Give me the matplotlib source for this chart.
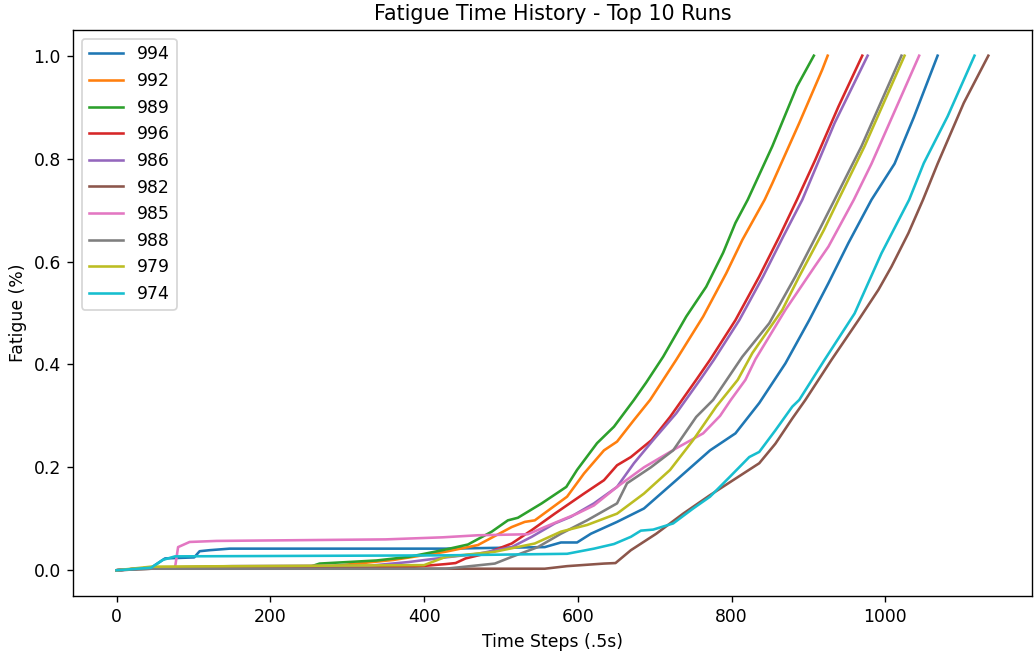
import matplotlib
matplotlib.use('agg')
import matplotlib.pyplot as plt

# 运行编号（图例顺序）
runs = ['994', '992', '989', '996', '986', '982', '985', '988', '979', '974']

# 各次运行的疲劳曲线关键点
x_994 = [0, 45, 63, 101, 108, 121, 147, 428, 557, 578, 599, 617, 651, 686, 728, 772, 805, 836, 870, 901, 926, 952, 982, 1012, 1037, 1068]
y_994 = [0, 0.005, 0.023, 0.025, 0.037, 0.039, 0.042, 0.042, 0.045, 0.054, 0.054, 0.071, 0.094, 0.12, 0.175, 0.233, 0.266, 0.325, 0.402, 0.486, 0.558, 0.636, 0.72, 0.79, 0.88, 1.0]

x_992 = [0, 45, 280, 360, 428, 470, 514, 531, 544, 586, 608, 634, 651, 673, 694, 728, 763, 793, 814, 843, 853, 888, 918, 925]
y_992 = [0, 0.005, 0.008, 0.02, 0.036, 0.049, 0.084, 0.094, 0.097, 0.143, 0.188, 0.233, 0.25, 0.292, 0.331, 0.409, 0.493, 0.577, 0.642, 0.72, 0.752, 0.869, 0.973, 1.0]

x_989 = [0, 45, 250, 264, 338, 380, 424, 457, 488, 509, 522, 553, 585, 599, 625, 647, 673, 689, 711, 741, 767, 789, 805, 821, 853, 885, 907]
y_989 = [0, 0.005, 0.006, 0.013, 0.019, 0.026, 0.039, 0.05, 0.075, 0.097, 0.102, 0.13, 0.162, 0.195, 0.247, 0.279, 0.331, 0.365, 0.415, 0.493, 0.551, 0.617, 0.675, 0.72, 0.824, 0.94, 1.0]

x_996 = [0, 45, 380, 428, 441, 454, 479, 514, 540, 570, 608, 634, 651, 669, 696, 720, 754, 772, 805, 836, 862, 885, 909, 939, 970]
y_996 = [0, 0.005, 0.006, 0.012, 0.014, 0.023, 0.032, 0.052, 0.078, 0.11, 0.149, 0.175, 0.204, 0.22, 0.253, 0.298, 0.37, 0.409, 0.486, 0.571, 0.648, 0.72, 0.798, 0.901, 1.0]

x_986 = [0, 45, 150, 330, 380, 428, 470, 514, 540, 570, 591, 621, 651, 673, 698, 728, 759, 777, 810, 841, 867, 892, 934, 977]
y_986 = [0, 0.005, 0.008, 0.009, 0.016, 0.025, 0.032, 0.045, 0.065, 0.091, 0.104, 0.13, 0.162, 0.208, 0.253, 0.305, 0.37, 0.409, 0.486, 0.571, 0.648, 0.72, 0.869, 1.0]

x_982 = [0, 45, 428, 557, 586, 634, 649, 669, 702, 737, 772, 805, 836, 857, 879, 896, 930, 965, 991, 1008, 1030, 1049, 1068, 1102, 1134]
y_982 = [0, 0.003, 0.003, 0.003, 0.008, 0.013, 0.014, 0.039, 0.071, 0.11, 0.146, 0.178, 0.208, 0.246, 0.295, 0.331, 0.409, 0.486, 0.545, 0.59, 0.655, 0.72, 0.79, 0.908, 1.0]

x_985 = [0, 45, 76, 80, 95, 130, 350, 424, 470, 535, 557, 573, 599, 621, 651, 686, 728, 763, 785, 799, 818, 831, 870, 908, 926, 959, 982, 1044]
y_985 = [0, 0.005, 0.005, 0.045, 0.055, 0.057, 0.06, 0.064, 0.068, 0.07, 0.084, 0.094, 0.11, 0.126, 0.162, 0.2, 0.237, 0.266, 0.3, 0.331, 0.37, 0.41, 0.506, 0.59, 0.629, 0.72, 0.79, 1.0]

x_988 = [0, 45, 428, 492, 514, 548, 578, 612, 651, 664, 695, 724, 754, 776, 814, 849, 883, 914, 934, 969, 1021]
y_988 = [0, 0.003, 0.003, 0.013, 0.026, 0.045, 0.071, 0.097, 0.13, 0.169, 0.2, 0.233, 0.298, 0.331, 0.415, 0.48, 0.571, 0.661, 0.72, 0.824, 1.0]

x_979 = [0, 45, 400, 428, 492, 544, 578, 612, 651, 686, 720, 750, 780, 808, 827, 866, 888, 920, 939, 973, 1025]
y_979 = [0, 0.007, 0.01, 0.026, 0.036, 0.052, 0.075, 0.088, 0.11, 0.149, 0.195, 0.253, 0.318, 0.37, 0.422, 0.506, 0.571, 0.661, 0.72, 0.824, 1.0]

x_974 = [0, 45, 60, 76, 428, 586, 621, 647, 669, 682, 698, 724, 750, 772, 798, 823, 836, 857, 879, 888, 921, 960, 995, 1031, 1050, 1081, 1116]
y_974 = [0, 0.005, 0.02, 0.027, 0.029, 0.032, 0.042, 0.051, 0.065, 0.077, 0.079, 0.091, 0.12, 0.143, 0.182, 0.22, 0.23, 0.272, 0.318, 0.331, 0.409, 0.499, 0.616, 0.72, 0.791, 0.882, 1.0]

series = {
    '994': (x_994, y_994),
    '992': (x_992, y_992),
    '989': (x_989, y_989),
    '996': (x_996, y_996),
    '986': (x_986, y_986),
    '982': (x_982, y_982),
    '985': (x_985, y_985),
    '988': (x_988, y_988),
    '979': (x_979, y_979),
    '974': (x_974, y_974),
}

fig, ax = plt.subplots(figsize=(1034 / 124, 651 / 124), dpi=124)
fig.subplots_adjust(left=0.0706, right=0.998, bottom=0.0845, top=0.954)

for run in runs:
    xs, ys = series[run]
    ax.plot(xs, ys, label=run)

ax.set_title('Fatigue Time History - Top 10 Runs')
ax.set_xlabel('Time Steps (.5s)')
ax.set_ylabel('Fatigue (%)')
ax.legend(loc='upper left')

plt.savefig('out.png', dpi=124)
